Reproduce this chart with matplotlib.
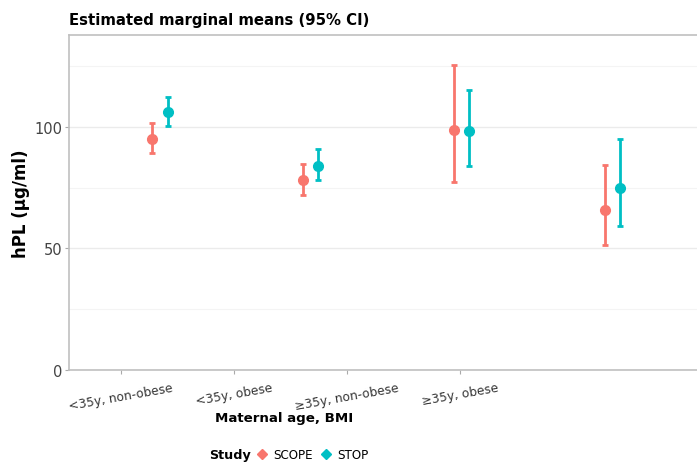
import numpy as np
import matplotlib.pyplot as plt
from matplotlib.lines import Line2D

# datos
groups = ['<35y, non-obese', '<35y, obese', '\u226535y, non-obese', '\u226535y, obese']
studies = ['SCOPE', 'STOP']
colors = {'SCOPE': '#F8766D', 'STOP': '#00BFC4'}

scope_mean = [95.1, 78.1, 98.5, 65.7]
scope_low = [89.3, 71.9, 77.4, 51.2]
scope_high = [101.5, 84.5, 125.5, 84.4]

stop_mean = [106.0, 84.0, 98.1, 74.7]
stop_low = [100.4, 77.9, 83.8, 59.0]
stop_high = [112.2, 90.7, 114.9, 94.9]

yticks = [0, 50, 100]

fig = plt.figure(figsize=(6.97, 4.64), dpi=100)
ax = fig.add_axes([0.0997, 0.2004, 0.9003, 0.7226])

x = np.arange(1, len(groups) + 1)
series = {'SCOPE': (scope_mean, scope_low, scope_high, -0.05),
          'STOP': (stop_mean, stop_low, stop_high, 0.05)}

for s in studies:
    m, lo, hi, off = series[s]
    m = np.array(m); lo = np.array(lo); hi = np.array(hi)
    ax.errorbar(x + off, m, yerr=[m - lo, hi - m], fmt='o', color=colors[s],
                ms=7, elinewidth=2, capsize=2.5, capthick=2, zorder=3)

ax.set_xlim(0.4, 4.56)
ax.set_ylim(0, 137.8)

# en la figura original las etiquetas del eje x estan comprimidas y no caen bajo los puntos
tick_pos = 0.74 + 0.75 * np.arange(len(groups))
ax.set_xticks(tick_pos)
ax.set_xticklabels(groups, rotation=10, ha='center', fontsize=8.8, color='#333333')
ax.set_yticks(yticks)
ax.set_yticks([25, 75, 125], minor=True)
ax.tick_params(axis='y', labelsize=10.5, labelcolor='#444444', color='#AAAAAA', length=3, pad=2)
ax.tick_params(axis='x', color='#AAAAAA', length=3, pad=5)
ax.tick_params(axis='y', which='minor', length=0)

ax.grid(axis='y', which='major', color='#EBEBEB', lw=1)
ax.grid(axis='y', which='minor', color='#F4F4F4', lw=0.8)
ax.set_axisbelow(True)

for side in ['left', 'bottom', 'top']:
    ax.spines[side].set_color('#C0C0C0')
    ax.spines[side].set_linewidth(1.2)
ax.spines['right'].set_visible(False)

ax.set_ylabel('hPL (\u00b5g/ml)', fontsize=12, fontweight='bold', labelpad=3)
fig.text(0.408, 0.099, 'Maternal age, BMI', fontsize=9.6, fontweight='bold', ha='center', va='center')
fig.text(0.099, 0.955, 'Estimated marginal means (95% CI)', fontsize=10.7, fontweight='bold',
         ha='left', va='center')

handles = [Line2D([0], [0], marker='D', color=colors[s], ls='', ms=5.5) for s in studies]
fig.text(0.30, 0.019, 'Study', fontsize=9.2, fontweight='bold', ha='left', va='center')
fig.legend(handles, studies, loc='center left', bbox_to_anchor=(0.367, 0.019), ncol=2, frameon=False,
           fontsize=8.6, handletextpad=0.45, columnspacing=0.6,
           handlelength=1.0, borderaxespad=0, borderpad=0)

fig.savefig('out.png', dpi=100)
